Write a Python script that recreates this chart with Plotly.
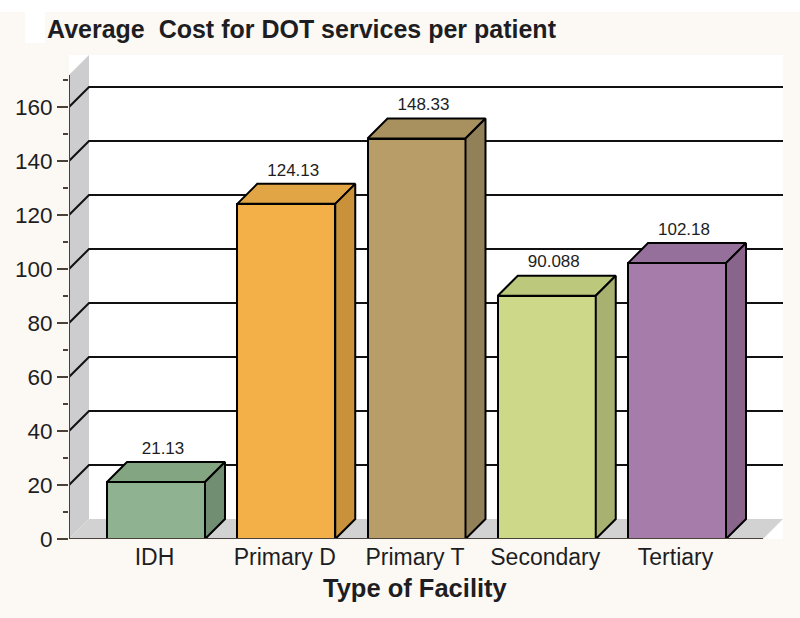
import plotly.graph_objects as go

categories = ["IDH", "Primary D", "Primary T", "Secondary", "Tertiary"]
values = [21.13, 124.13, 148.33, 90.088, 102.18]
front_colors = ["#8FB290", "#F3AF48", "#B89D69", "#CDD888", "#A67CAB"]
top_colors = ["#84A582", "#E2A546", "#A8905F", "#BCC87C", "#95709A"]
side_colors = ["#728E72", "#C9913A", "#918058", "#A8B16F", "#89658C"]
y_ticks = [0, 20, 40, 60, 80, 100, 120, 140, 160]

W, H = 800, 618
L, R, T, B = 69, 783, 55, 539
PX_Y = 2.7          # pixels per value unit
PX_X = 130.25       # pixels per category
X0_PX = 156         # pixel of first category
DEPTH = 20          # pixels
BAR_W = 98 / PX_X
dx, dy = DEPTH / PX_X, DEPTH / PX_Y
xmin, xmax = (L - X0_PX) / PX_X, (R - X0_PX) / PX_X
ymax = (B - T) / PX_Y
AXIS = "#4A4238"
TXT = "#1E1E22"
FONT = "Liberation Sans, Arial, sans-serif"
BG = "#FCF9F5"

shapes = []
def py(p):
    return (B - p) / (B - T)
def px(p):
    return (p - L) / (R - L)
shapes.append(dict(type="rect", xref="paper", yref="paper", x0=px(0), x1=px(W), y0=py(12), y1=py(0),
                   fillcolor="white", line_width=0, layer="below"))
shapes.append(dict(type="rect", xref="paper", yref="paper", x0=px(25), x1=px(45), y0=py(43), y1=py(12),
                   fillcolor="white", line_width=0, layer="below"))
# left wall
shapes.append(dict(type="path", path=f"M {xmin},0 L {xmin+dx},{dy} L {xmin+dx},{ymax} L {xmin},{ymax-dy} Z",
                   fillcolor="#CDCDCF", line_width=0, layer="below"))
# floor
shapes.append(dict(type="path", path=f"M {xmin},0 L {xmin+dx},{dy} L {xmax},{dy} L {xmax-dx},0 Z",
                   fillcolor="#D2D2D2", line_width=0, layer="below"))
# grid lines running across wall and back
for t in y_ticks[1:]:
    shapes.append(dict(type="path", path=f"M {xmin},{t} L {xmin+dx},{t+dy} L {xmax},{t+dy}",
                       line=dict(color="#111111", width=2), layer="below"))

fig = go.Figure()
xs = list(range(len(categories)))
fig.add_trace(go.Bar(x=xs, y=values, width=BAR_W, marker=dict(color=front_colors, line=dict(color="#000", width=2)),
                     showlegend=False, hoverinfo="skip"))
for x, v, tc, sc in zip(xs, values, top_colors, side_colors):
    xl, xr = x - BAR_W / 2, x + BAR_W / 2
    fig.add_trace(go.Scatter(x=[xl, xl + dx, xr + dx, xr, xl], y=[v, v + dy, v + dy, v, v], fill="toself",
                             fillcolor=tc, mode="lines", line=dict(color="#000", width=2),
                             showlegend=False, hoverinfo="skip"))
    fig.add_trace(go.Scatter(x=[xr, xr + dx, xr + dx, xr, xr], y=[0, dy, v + dy, v, 0], fill="toself",
                             fillcolor=sc, mode="lines", line=dict(color="#000", width=2),
                             showlegend=False, hoverinfo="skip"))
# axis lines
fig.add_trace(go.Scatter(x=[xmin, xmin, xmax - dx], y=[ymax - dy, 0, 0], mode="lines",
                         line=dict(color=AXIS, width=2), showlegend=False, hoverinfo="skip", cliponaxis=False))
# value labels
fig.add_trace(go.Scatter(x=[x + dx / 2 - 3 / PX_X for x in xs], y=[v + dy + 1.5 for v in values], mode="text",
                         text=[str(v) for v in values], textposition="top center",
                         textfont=dict(family=FONT, size=17, color=TXT), showlegend=False, hoverinfo="skip",
                         cliponaxis=False))

fig.update_layout(
    width=W, height=H, margin=dict(l=L, r=W - R, t=T, b=H - B, pad=0),
    paper_bgcolor=BG, plot_bgcolor="white", shapes=shapes, bargap=0,
    title=dict(text="Average\u00a0 Cost for DOT services per patient", x=47 / W, xanchor="left",
               y=1 - 29 / H, yanchor="middle", font=dict(family=FONT, size=25, color=TXT, weight="bold")),
    annotations=[dict(text="<b>Type of Facility</b>", xref="paper", yref="paper", x=px(415.5), y=py(588),
                      xanchor="center", yanchor="middle", showarrow=False,
                      font=dict(family=FONT, size=25.5, color=TXT))],
    xaxis=dict(range=[xmin, xmax], tickmode="array", tickvals=[x - 1.5 / PX_X for x in xs], ticktext=categories,
               ticks="", showgrid=False, zeroline=False, showline=False, ticklabelstandoff=2,
               tickfont=dict(family=FONT, size=23, color=TXT)),
    yaxis=dict(range=[0, ymax], tickmode="array", tickvals=y_ticks, ticks="outside", ticklen=11, tickwidth=2,
               tickcolor=AXIS, showgrid=False, zeroline=False, showline=False,
               tickfont=dict(family=FONT, size=22.5, color=TXT),
               minor=dict(dtick=10, ticks="outside", ticklen=5, tickwidth=2, tickcolor=AXIS, showgrid=False)),
)
fig.write_html("out.html", config={"displayModeBar": False}, post_script="document.body.style.margin='0';")
